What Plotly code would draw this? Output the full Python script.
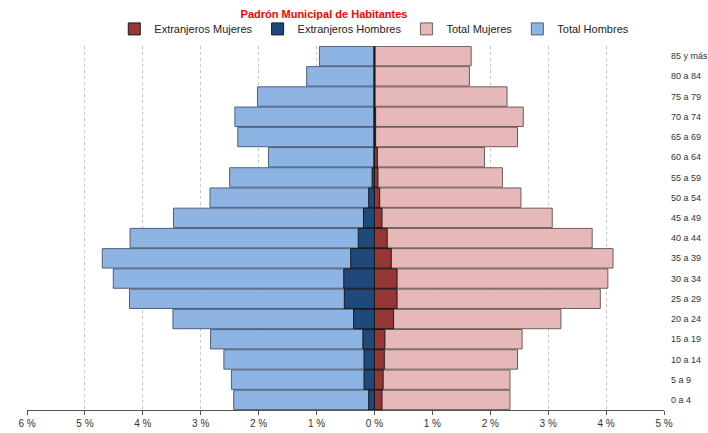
import plotly.graph_objects as go

grupos = ["0 a 4", "5 a 9", "10 a 14", "15 a 19", "20 a 24", "25 a 29", "30 a 34",
          "35 a 39", "40 a 44", "45 a 49", "50 a 54", "55 a 59", "60 a 64",
          "65 a 69", "70 a 74", "75 a 79", "80 a 84", "85 y más"]

total_hombres = [2.43, 2.47, 2.60, 2.83, 3.48, 4.23, 4.51, 4.70, 4.22, 3.47,
                 2.84, 2.50, 1.83, 2.36, 2.41, 2.02, 1.17, 0.95]
total_mujeres = [2.34, 2.34, 2.47, 2.55, 3.22, 3.90, 4.03, 4.12, 3.76, 3.07,
                 2.53, 2.21, 1.90, 2.47, 2.57, 2.29, 1.64, 1.67]
ext_hombres = [0.10, 0.18, 0.18, 0.20, 0.36, 0.52, 0.53, 0.41, 0.28, 0.19,
               0.10, 0.04, 0.01, 0.01, 0.01, 0.01, 0.01, 0.01]
ext_mujeres = [0.13, 0.15, 0.17, 0.18, 0.33, 0.39, 0.39, 0.29, 0.22, 0.13,
               0.09, 0.06, 0.05, 0.02, 0.02, 0.01, 0.01, 0.01]

tick_vals = [-6, -5, -4, -3, -2, -1, 0, 1, 2, 3, 4, 5]
tick_text = [f"{abs(v)} %" for v in tick_vals]

fig = go.Figure()
fig.add_trace(go.Bar(y=grupos, x=[-v for v in total_hombres], orientation="h",
                     name="Total Hombres", legendrank=4,
                     marker=dict(color="#8EB4E3", line=dict(color="#4d5f7a", width=1))))
fig.add_trace(go.Bar(y=grupos, x=total_mujeres, orientation="h",
                     name="Total Mujeres", legendrank=3,
                     marker=dict(color="#E6B9B8", line=dict(color="#6b5c5c", width=1))))
fig.add_trace(go.Bar(y=grupos, x=[-v for v in ext_hombres], orientation="h",
                     name="Extranjeros Hombres", legendrank=2,
                     marker=dict(color="#1F497D", line=dict(color="#1a1a1a", width=1))))
fig.add_trace(go.Bar(y=grupos, x=ext_mujeres, orientation="h",
                     name="Extranjeros Mujeres", legendrank=1,
                     marker=dict(color="#953735", line=dict(color="#1a1a1a", width=1))))

fig.update_layout(
    width=708, height=433,
    barmode="overlay", bargap=0.04,
    paper_bgcolor="white", plot_bgcolor="white",
    font=dict(family="Liberation Sans, Arial, sans-serif", size=10, color="#333333"),
    margin=dict(l=27, r=44, t=46, b=23, autoexpand=False),
    title=dict(text="<b>Padrón Municipal de Habitantes</b>", x=324/708, xanchor="center",
               y=1 - 14/433, yanchor="middle", font=dict(color="#ff0000", size=11)),
    legend=dict(orientation="h", x=386/708, xanchor="center", xref="paper",
                y=1.047, yanchor="middle",
                font=dict(size=11, color="#222222"),
                itemwidth=30, traceorder="normal", bgcolor="rgba(0,0,0,0)",
                tracegroupgap=0),
    showlegend=True,
)
fig.update_xaxes(range=[-6, 5], tickvals=tick_vals, ticktext=tick_text,
                 showgrid=True, gridcolor="#c4c4c4", gridwidth=1, griddash="dot",
                 zeroline=True, zerolinecolor="black", zerolinewidth=2.5,
                 showline=True, linecolor="#555555", linewidth=1,
                 ticks="outside", ticklen=4, tickcolor="#555555", automargin=False,
                 tickfont=dict(size=10, color="#333333"), layer="above traces")
fig.update_yaxes(side="right", showgrid=False, zeroline=False, showline=False,
                 automargin=False, ticklabelstandoff=6,
                 tickfont=dict(size=9, color="#333333"), ticks="", range=[-0.5, 17.5])

fig.write_html("out.html", config={"displayModeBar": False},
               post_script="document.body.style.margin='0';document.body.style.padding='0';")
